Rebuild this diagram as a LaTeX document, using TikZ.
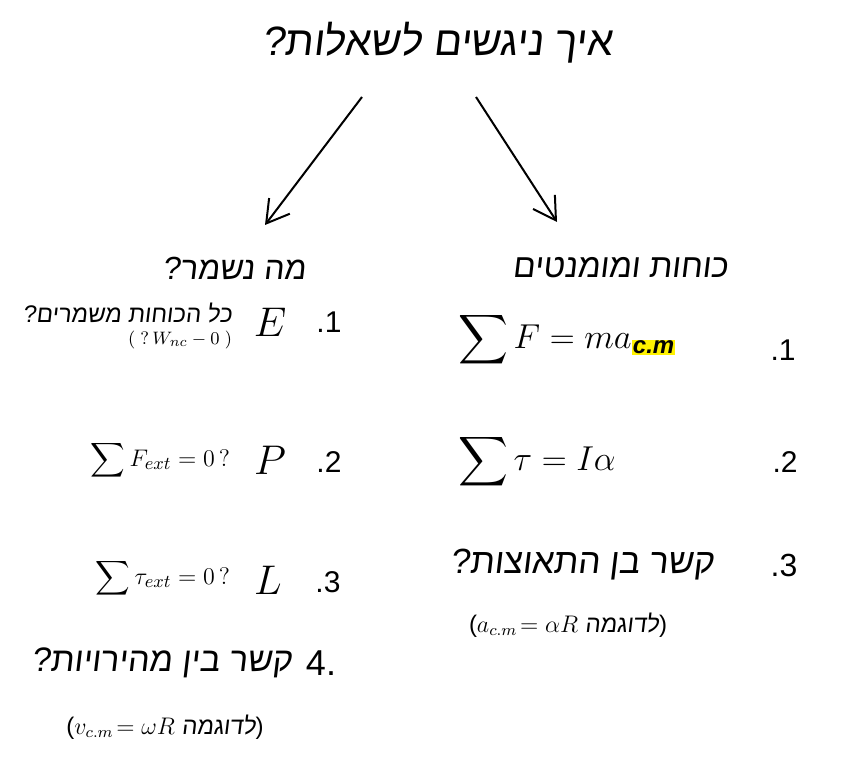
\documentclass[tikz,border=0pt]{standalone}
\usepackage{fontspec}
\usepackage{amsmath}
\newfontfamily\hebfont[Script=Hebrew, FakeSlant=0.12]{Liberation Sans}
\newfontfamily\numfont{Liberation Sans}
\TeXXeTstate=1
\newcommand{\heb}[1]{{\hebfont\beginR #1\endR}}
\newcommand{\hl}[1]{{\setlength{\fboxsep}{0.6pt}\colorbox{yellow}{\numfont\bfseries\itshape\fontsize{12}{14}\selectfont #1}}}
\usetikzlibrary{arrows.meta, positioning}

\begin{document}
\begin{tikzpicture}[x=0.5pt, y=-0.5pt, >={Straight Barb[length=11pt, width=13pt]},
    every node/.style={inner sep=0pt, outer sep=0pt},
    numlbl/.style={font=\numfont\fontsize{15}{18}\selectfont},
    qty/.style={font=\fontsize{21}{24}\selectfont},
    lawtext/.style={font=\fontsize{13}{16}\selectfont}]
    \useasboundingbox[fill=white] (0,0) rectangle (860,774);
    % title and the two branches
    \node[font=\fontsize{20.5}{24}\selectfont] (title) at (437,43) {\heb{איך ניגשים לשאלות?}};
    \node[font=\fontsize{16}{20}\selectfont] (keep) at (234,268) {\heb{מה נשמר?}};
    \node[font=\fontsize{16.5}{20}\selectfont] (forces) at (620,268) {\heb{כוחות ומומנטים}};
    \coordinate (tl) at (362,97);
    \coordinate (tr) at (476,97);
    \coordinate (kl) at (265,225);
    \coordinate (fr) at (557,222);
    \draw[->, line width=1pt] (tl) -- (kl);
    \draw[->, line width=1pt] (tr) -- (fr);
    % left column: conserved quantities
    \node[numlbl] (k1) at (329,322) {.1};
    \node[qty] (en) at (270,322) {$E$};
    \node[anchor=east, font=\fontsize{12}{14}\selectfont] (k1q) at (232,313) {\heb{כל הכוחות משמרים?}};
    \node[below=4pt of k1q.south east, anchor=north east, font=\fontsize{9.5}{11}\selectfont] (k1w) {$(\;?\,W_{nc}-0\;)$};
    \node[numlbl] (k2) at (329,462) {.2};
    \node[qty] (mom) at (270,460) {$P$};
    \node[anchor=east, lawtext] (k2q) at (230,460) {$\displaystyle\sum F_{ext}=0\,?$};
    \node[numlbl] (k3) at (328,582) {.3};
    \node[qty] (ang) at (268,580) {$L$};
    \node[anchor=east, lawtext] (k3q) at (230,578) {$\displaystyle\sum \tau_{ext}=0\,?$};
    \node[numlbl, font=\numfont\fontsize{18}{20}\selectfont] (k4) at (321,663) {4.};
    \node[anchor=east, font=\fontsize{17}{20}\selectfont] (k4q) at (292,663) {\heb{קשר בין מהירויות?}};
    \node[font=\fontsize{12}{14}\selectfont] (k4ex) at (165,727) {\numfont($v_{c.m}\!=\omega R$ \heb{לדוגמה}\numfont)};
    % right column: forces and torques
    \node[numlbl] (f1) at (783,350) {.1};
    \node[anchor=west, font=\fontsize{16}{20}\selectfont] (f1q) at (458,340) {$\displaystyle\sum F=ma_{\hl{c.m}}$};
    \node[numlbl] (f2) at (785,462) {.2};
    \node[anchor=west, font=\fontsize{17}{20}\selectfont] (f2q) at (458,462) {$\displaystyle\sum \tau=I\alpha$};
    \node[numlbl, font=\numfont\fontsize{16}{20}\selectfont] (f3) at (784,565) {.3};
    \node[font=\fontsize{17.5}{20}\selectfont] (f3q) at (582,565) {\heb{קשר בן התאוצות?}};
    \node[font=\fontsize{12}{14}\selectfont] (f3ex) at (568,625) {\numfont($a_{c.m}\!=\alpha R$ \heb{לדוגמה}\numfont)};
\end{tikzpicture}
\end{document}
